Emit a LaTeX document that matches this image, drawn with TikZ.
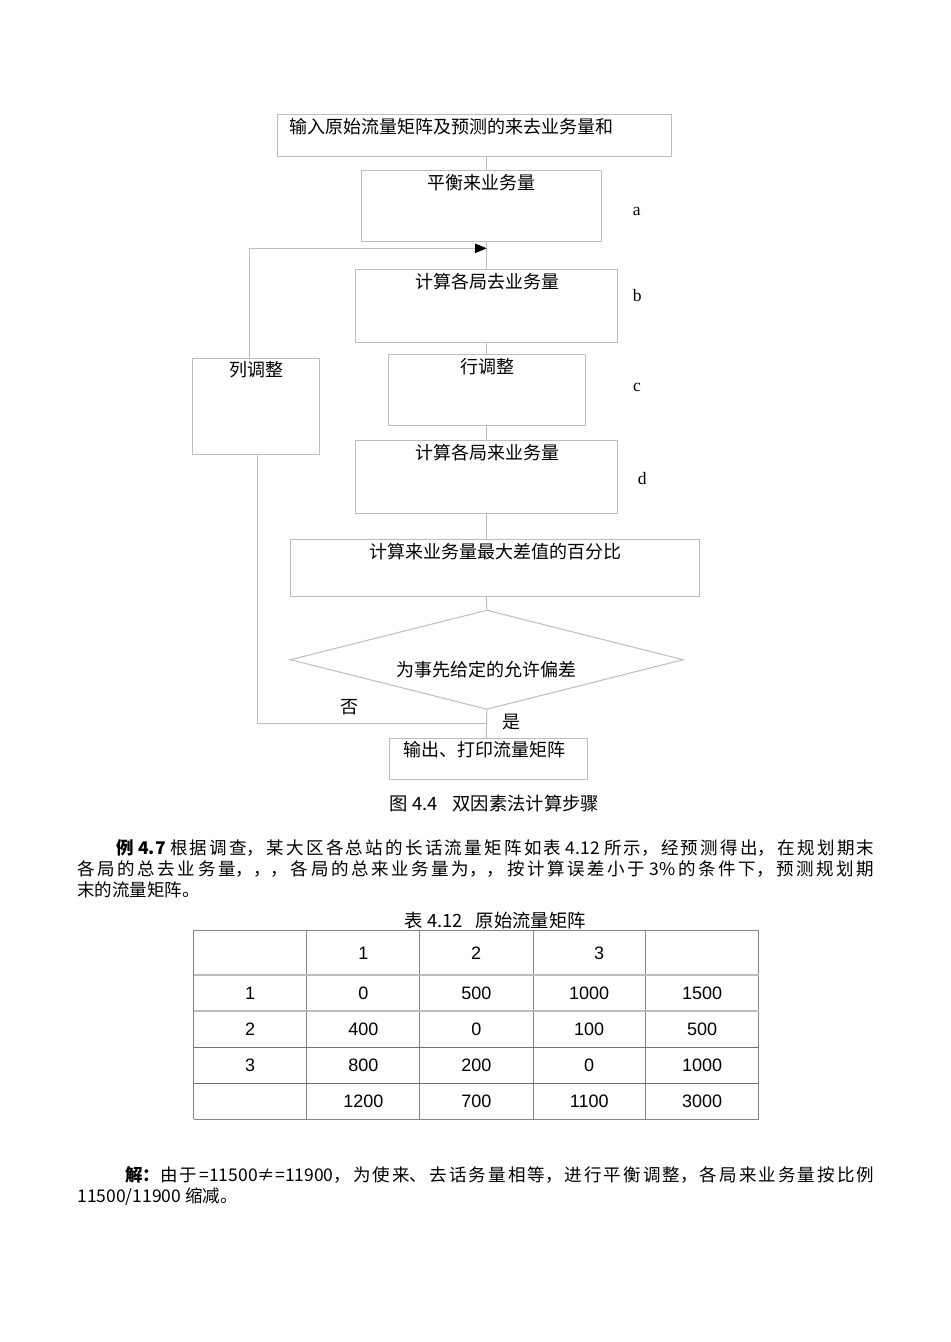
\documentclass[tikz,border=0pt]{standalone}
\usepackage{fontspec}
\setmainfont{Liberation Sans}
\newfontfamily\cjk{Noto Sans CJK SC}
\newfontfamily\tmsfont{Liberation Serif}
\usepackage{tikz}
\usetikzlibrary{arrows.meta,shapes.geometric}
\XeTeXlinebreaklocale "zh"
\XeTeXlinebreakskip=0pt plus 6pt

\definecolor{boxgray}{HTML}{BDBDBD}
\definecolor{gridgray}{HTML}{858585}
\definecolor{rulegray}{HTML}{BBBBBB}
\definecolor{rowgray}{HTML}{707070}

% one justified line of body text
\newcommand\fullline[2]{\parbox{#1}{\parfillskip=0pt\relax\noindent\relax #2}}

\tikzset{
  flow/.style={draw=boxgray, line width=0.6pt, rectangle, inner sep=0pt},
  boxsize/.style 2 args={minimum width=#1*0.6pt, minimum height=#2*0.6pt},
  flowtext/.style={font=\cjk\fontsize{10.8pt}{12pt}\selectfont, inner sep=0pt},
  sidetext/.style={font=\tmsfont\fontsize{10.5pt}{12pt}\selectfont, inner sep=0pt},
  link/.style={draw=boxgray, line width=0.6pt},
  bodytext/.style={anchor=west, inner sep=0pt, font=\cjk\fontsize{10.5pt}{13pt}\selectfont},
  numtext/.style={inner sep=0pt, font=\fontsize{10.8pt}{12pt}\selectfont},
}

\begin{document}
\begin{tikzpicture}[x=0.6pt, y=-0.6pt]
  \fill[white] (0,0) rectangle (950,1342);
  \useasboundingbox (0,0) rectangle (950,1342);
  \coordinate (axis) at (486.3,0);

  % flow chart boxes
  \node[flow, boxsize={394.4}{41.7}] (inp) at (474.5,135.2) {};
  \node[flowtext, anchor=west] (inptxt) at (289,127) {输入原始流量矩阵及预测的来去业务量和};
  \node[flow, boxsize={240}{71}] (bal) at (481.7,205.8) {};
  \node[flowtext] (baltxt) at (481.7,183) {平衡来业务量};
  \node[flow, boxsize={262}{73}] (gocalc) at (486.7,305.8) {};
  \node[flowtext] (gotxt) at (487,282) {计算各局去业务量};
  \node[flow, boxsize={197.4}{71}] (rowadj) at (487,389.8) {};
  \node[flowtext] (rowtxt) at (487,366.7) {行调整};
  \node[flow, boxsize={262}{73.3}] (comecalc) at (486.7,476.7) {};
  \node[flowtext] (cometxt) at (487,452.3) {计算各局来业务量};
  \node[flow, boxsize={127}{96}] (coladj) at (255.8,406.3) {};
  \node[flowtext] (coltxt) at (256.3,370) {列调整};
  \node[flow, boxsize={408.7}{57}] (pct) at (494.7,567.8) {};
  \node[flowtext] (pcttxt) at (495,551.7) {计算来业务量最大差值的百分比};
  \node[diamond, draw=boxgray, line width=0.6pt, inner sep=0pt,
    minimum width=393*0.6pt, minimum height=99.3*0.6pt] (dia) at (486.8,659.7) {};
  \node[flowtext] (diatxt) at (486.7,669.3) {为事先给定的允许偏差};
  \node[flow, boxsize={198}{41}] (out) at (488.3,758.8) {};
  \node[flowtext] (outtxt) at (484.2,750) {输出、打印流量矩阵};

  \node[sidetext] (la) at (636.7,211) {a};
  \node[sidetext] (lb) at (637.3,295.3) {b};
  \node[sidetext] (lc) at (637,387.3) {c};
  \node[sidetext] (ld) at (642.3,479) {d};
  \node[flowtext] (no) at (349,707.3) {否};
  \node[flowtext] (yes) at (511.7,721.7) {是};

  % connectors
  \coordinate (join) at (486.8,248.3);
  \coordinate (nojoin) at (486.3,723.3);
  \draw[link] (inp.south -| axis) -- (bal.north -| axis);
  \draw[link] (bal.south -| axis) -- (gocalc.north -| axis);
  \draw[link] (gocalc.south -| axis) -- (rowadj.north -| axis);
  \draw[link] (rowadj.south -| axis) -- (comecalc.north -| axis);
  \draw[link] (comecalc.south -| axis) -- (pct.north -| axis);
  \draw[link] (pct.south -| axis) -- (dia.north);
  \draw[link] (dia.south) -- (out.north -| axis);
  \draw[link] (nojoin) -| ([xshift=1.1pt]coladj.south);
  \draw[link, -{Triangle[length=7pt, width=5.6pt, color=black]}]
    ([xshift=-3.9pt]coladj.north) |- (join);

  \node[flowtext, font=\cjk\fontsize{11pt}{13pt}\selectfont] (cap) at (494.5,803.3)
    {图 4.4\hspace{0.8em}双因素法计算步骤};

  % text
  \node[bodytext] (p1a) at (116,848) {\fullline{454.8pt}{\textbf{例 4.7} 根据调查，某大区各总站的长话流量矩阵如表 4.12 所示，经预测得出，在规划期末}};
  \node[bodytext] (p1b) at (77,869) {\fullline{478.2pt}{各局的总去业务量，，，各局的总来业务量为，，按计算误差小于 3\%的条件下，预测规划期}};
  \node[bodytext] (p1c) at (77,890) {末的流量矩阵。};

  % table
  \node[flowtext, font=\cjk\fontsize{11pt}{13pt}\selectfont] (tcap) at (495.4,920.7)
    {表 4.12\hspace{0.7em}原始流量矩阵};
  \foreach \x in {193.5,306.9,419.6,533,645.4,758.8}
    \draw[gridgray, line width=0.6pt] (\x,930) -- (\x,1119.3);
  \draw[gridgray, line width=0.6pt] (193.5,930) -- (758.8,930);
  \draw[gridgray, line width=0.6pt] (193.5,1119.3) -- (758.8,1119.3);
  \foreach \y in {975,1011}
    \draw[rulegray, line width=1.2pt] (193.5,\y) -- (758.8,\y);
  \foreach \y in {1047.3,1083.3}
    \draw[rowgray, line width=0.6pt] (193.5,\y) -- (758.8,\y);
  \foreach \x/\txt [count=\i] in {363.5/1,476.2/2,599/3}
    \node[numtext] (head\i) at (\x,953.3) {\txt};
  \foreach \y/\txt [count=\i] in {993.3/1,1029.3/2,1065.7/3}
    \node[numtext] (row\i) at (250.2,\y) {\txt};
  \foreach \y/\a/\b/\c/\d [count=\i] in {993.3/0/500/1000/1500,1029.3/400/0/100/500,1065.7/800/200/0/1000,1101.7/1200/700/1100/3000}{
    \node[numtext] (v\i a) at (363.3,\y) {\a};
    \node[numtext] (v\i b) at (476.3,\y) {\b};
    \node[numtext] (v\i c) at (589.2,\y) {\c};
    \node[numtext] (v\i d) at (702.1,\y) {\d};
  }

  \node[bodytext] (p2a) at (125,1175) {\fullline{449.4pt}{\textbf{解：}由于=11500≠=11900，为使来、去话务量相等，进行平衡调整，各局来业务量按比例}};
  \node[bodytext] (p2b) at (77,1196.7) {11500/11900 缩减。};
\end{tikzpicture}
\end{document}
